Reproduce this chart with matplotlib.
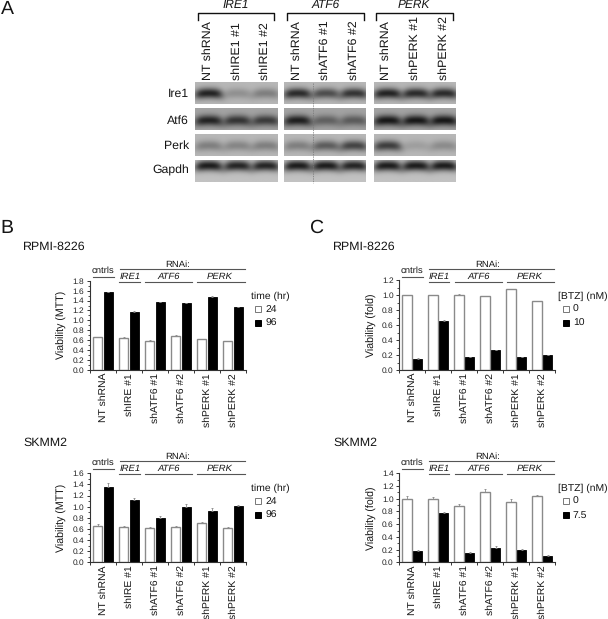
import numpy as np
import matplotlib
matplotlib.use('Agg')
import matplotlib.pyplot as plt
from matplotlib.patches import Rectangle
from matplotlib.ticker import MultipleLocator

plt.rcParams['font.family'] = ['Liberation Sans', 'DejaVu Sans']
plt.rcParams['text.color'] = '#151515'
plt.rcParams['text.hinting'] = 'none'

#blot data: darkness of each band, row -> gene group -> lane
blot_rows = ['Ire1', 'Atf6', 'Perk', 'Gapdh']
blot_groups = ['IRE1', 'ATF6', 'PERK']
blot_lanes = [['NT shRNA', 'shIRE1 #1', 'shIRE1 #2'],
              ['NT shRNA', 'shATF6 #1', 'shATF6 #2'],
              ['NT shRNA', 'shPERK #1', 'shPERK #2']]
ire1_bands = [[0.95, 0.25, 0.36], [0.90, 0.68, 0.84], [0.95, 0.90, 0.90]]
atf6_bands = [[0.92, 0.80, 0.75], [0.95, 0.48, 0.52], [1.00, 1.00, 1.00]]
perk_bands = [[0.36, 0.32, 0.36], [0.36, 0.58, 0.74], [0.78, 0.16, 0.28]]
gapdh_bands = [[1.00, 0.95, 0.95], [1.00, 1.00, 0.95], [1.00, 1.00, 1.00]]
blot_bands = [ire1_bands, atf6_bands, perk_bands, gapdh_bands]
blot_bg = [0.72, 0.64, 0.72, 0.76]

#bar data
groups = ['NT shRNA', 'shIRE #1', 'shATF6 #1', 'shATF6 #2', 'shPERK #1', 'shPERK #2']

b1_white = [0.66, 0.65, 0.59, 0.69, 0.62, 0.58]
b1_black = [1.57, 1.17, 1.37, 1.35, 1.48, 1.26]
b1_white_err = [0.01, 0.01, 0.01, 0.01, 0.01, 0.01]
b1_black_err = [0.01, 0.01, 0.01, 0.01, 0.01, 0.01]

b2_white = [0.66, 0.64, 0.61, 0.63, 0.70, 0.61]
b2_black = [1.35, 1.12, 0.80, 1.00, 0.92, 1.01]
b2_white_err = [0.02, 0.02, 0.02, 0.02, 0.02, 0.02]
b2_black_err = [0.07, 0.04, 0.04, 0.04, 0.06, 0.02]

c1_white = [1.00, 1.00, 1.01, 0.99, 1.08, 0.92]
c1_black = [0.15, 0.65, 0.175, 0.265, 0.175, 0.195]
c1_white_err = [0.005, 0.005, 0.005, 0.005, 0.005, 0.005]
c1_black_err = [0.005, 0.02, 0.005, 0.005, 0.005, 0.005]

c2_white = [1.00, 1.00, 0.89, 1.11, 0.95, 1.05]
c2_black = [0.17, 0.78, 0.14, 0.22, 0.20, 0.10]
c2_white_err = [0.05, 0.02, 0.03, 0.05, 0.05, 0.01]
c2_black_err = [0.02, 0.01, 0.02, 0.04, 0.01, 0.01]

W, H = 608, 619
fig = plt.figure(figsize=(W / 100, H / 100), dpi=100)

#overlay in pixel coordinates for the blot and all annotations
ov = fig.add_axes([0, 0, 1, 1])
ov.axis('off')
ov.set_zorder(5)


def blot(x0, x1, y0, y1, bands, bg, band_y, band_h):
    xs = np.arange(x0, x1, 0.5)
    ys = np.arange(y0, y1, 0.5)
    xx, yy = np.meshgrid(xs, ys)
    img = np.full(xx.shape, bg)
    w = x1 - x0
    for d, c in zip(bands, [0.165, 0.51, 0.85]):
        xc = x0 + c * w
        across = np.exp(-((xx - xc) / 14.0) ** 4)
        # bands bow a little, edges sit lower than the middle
        mid = band_y + ((xx - xc) / 14.0) ** 2 * 1.5
        along = np.exp(-((yy - mid) / band_h) ** 2)
        img = img * (1 - 0.85 * d * across * along)
    ov.imshow(img, extent=(x0, x1, y1, y0), cmap='gray', vmin=0, vmax=1,
              aspect='auto', interpolation='bilinear')


panel_x = [(195, 277.5), (284, 366), (374, 455.5)]
panel_y = [(82.5, 104.2), (108.7, 129.8), (134.7, 156.3), (161.3, 182.5)]
row_band_y = [93.5, 120.5, 146, 166.5]
row_band_h = [5.2, 5.2, 5.2, 5.2]
row_label_y = [94, 120.7, 146, 170]

for r in range(4):
    for g in range(3):
        blot(panel_x[g][0], panel_x[g][1], panel_y[r][0], panel_y[r][1],
             blot_bands[r][g], blot_bg[r], row_band_y[r], row_band_h[r])
    ov.text(189, row_label_y[r], blot_rows[r], ha='right', va='center', fontsize=8.8)
ov.plot([312.8, 312.8], [83, 183], color='#777777', lw=0.5, ls=(0, (2, 1.5)))

bracket_x = [(197.7, 274), (286.8, 363.6), (376.4, 453.1)]
lane_x = [(207.4, 236.4, 264.3), (296.5, 324.8, 353.5), (385.7, 414.7, 443.8)]
header_x = [236, 325.6, 413.6]
for g in range(3):
    xa, xb = bracket_x[g]
    ov.plot([xa, xa, xb, xb], [20, 12.7, 12.7, 20], color='#111111', lw=1.0)
    ov.text(header_x[g], 5, blot_groups[g], style='italic', ha='center', va='center', fontsize=8.6)
    for lx, name in zip(lane_x[g], blot_lanes[g]):
        ov.text(lx, 79.5, name, rotation=90, ha='center', va='bottom', fontsize=8.9)

ov.text(0.5, 9, 'A', ha='left', va='center', fontsize=14)
ov.text(0.5, 228, 'B', ha='left', va='center', fontsize=14)
ov.text(309, 228, 'C', ha='left', va='center', fontsize=14)


def bar_panel(left, y0, ytop, ymax, white, black, white_err, black_err, step, ylabel,
              title, title_y, title_x, legend_title, legend_labels, legend_x, dy):
    ax = fig.add_axes([left / W, 1 - y0 / H, 156 / W, (y0 - ytop) / H])
    x = np.arange(6)
    ax.bar(x - 0.205, white, 0.37, color='white', edgecolor='#8a8a8a', lw=1.0,
           yerr=[[0] * 6, white_err], ecolor='#8a8a8a',
           error_kw={'elinewidth': 0.6, 'capsize': 1, 'capthick': 0.6})
    ax.bar(x + 0.205, black, 0.37, color='black', edgecolor='black', lw=0.6,
           yerr=[[0] * 6, black_err], ecolor='#8a8a8a',
           error_kw={'elinewidth': 0.6, 'capsize': 1, 'capthick': 0.6})
    ax.set_xlim(-0.5, 5.5)
    ax.set_ylim(0, ymax)
    ax.set_xticks(np.arange(-0.5, 6, 1))
    ax.set_xticklabels([])
    ax.yaxis.set_minor_locator(MultipleLocator(step / 2))
    ax.set_yticks(np.arange(0, ymax + 0.01, step))
    ax.set_yticklabels(['%.1f' % v for v in np.arange(0, ymax + 0.01, step)])
    ax.tick_params(axis='both', which='major', length=2.5, width=0.7, labelsize=6.0,
                   pad=1.5, color='#333333', labelcolor='#222222')
    ax.tick_params(axis='y', which='minor', length=1.5, width=0.6, color='#333333')
    for s in ['top', 'right']:
        ax.spines[s].set_visible(False)
    for s in ['left', 'bottom']:
        ax.spines[s].set_linewidth(0.8)
        ax.spines[s].set_color('#333333')

    # group names and axis label
    for i, name in enumerate(groups):
        ov.text(left + 13 + 26 * i + 0.5, y0 + 3, name, rotation=90, ha='center', va='top', fontsize=7.5)
    ov.text(left - 27.7, (y0 + ytop) / 2 + 0, ylabel, rotation=90, ha='center', va='center', fontsize=7.7)
    ov.text(title_x, title_y, title, ha='left', va='center', fontsize=8.9)

    # header above the axes
    ov.text(left + 88, 264.7 + dy, 'RNAi:', ha='center', va='center', fontsize=6.8)
    ov.plot([left + 30, left + 155], [269.3 + dy, 269.3 + dy], color='#555555', lw=0.8)
    ov.text(left + 13, 270.7 + dy, 'cntrls', ha='center', va='center', fontsize=6.8)
    ov.plot([left + 2.7, left + 24], [276.7 + dy, 276.7 + dy], color='#555555', lw=0.8)
    heads = [('IRE1', 40, 29.3, 50), ('ATF6', 79, 55.3, 102.3), ('PERK', 130, 107.3, 154.7)]
    for label, cx, xa, xb in heads:
        ov.text(left + cx, 276.7 + dy, label, style='italic', ha='center', va='center', fontsize=6.8)
        ov.plot([left + xa, left + xb], [281.7 + dy, 281.7 + dy], color='#555555', lw=0.8)

    # legend
    ov.text(legend_x, 296.3 + dy, legend_title, ha='left', va='center', fontsize=7.5)
    ov.add_patch(Rectangle((legend_x + 4.5, 306 + dy), 6.2, 6.2, fc='white', ec='#777777', lw=0.7))
    ov.add_patch(Rectangle((legend_x + 4.5, 320 + dy), 6.2, 6.2, fc='black', ec='black', lw=0.7))
    ov.text(legend_x + 14.5, 309.3 + dy, legend_labels[0], ha='left', va='center', fontsize=7.5)
    ov.text(legend_x + 14.5, 323.3 + dy, legend_labels[1], ha='left', va='center', fontsize=7.5)


bar_panel(90, 370, 280.7, 1.8, b1_white, b1_black, b1_white_err, b1_black_err, 0.2,
          'Viability (MTT)', 'RPMI-8226', 246.7, 23, 'time (hr)', ['24', '96'], 250.7, 0)
bar_panel(90, 562.3, 473.3, 1.6, b2_white, b2_black, b2_white_err, b2_black_err, 0.2,
          'Viability (MTT)', 'SKMM2', 442.3, 23, 'time (hr)', ['24', '96'], 250.7, 192)
bar_panel(399.3, 370, 280.3, 1.2, c1_white, c1_black, c1_white_err, c1_black_err, 0.2,
          'Viability (fold)', 'RPMI-8226', 246.7, 333, '[BTZ] (nM)', ['0', '10'], 558.3, 0)
bar_panel(399.3, 562.3, 473.3, 1.4, c2_white, c2_black, c2_white_err, c2_black_err, 0.2,
          'Viability (fold)', 'SKMM2', 442.3, 333, '[BTZ] (nM)', ['0', '7.5'], 558.3, 192)

ov.set_xlim(0, W)
ov.set_ylim(H, 0)
fig.savefig('out.png', dpi=100)
